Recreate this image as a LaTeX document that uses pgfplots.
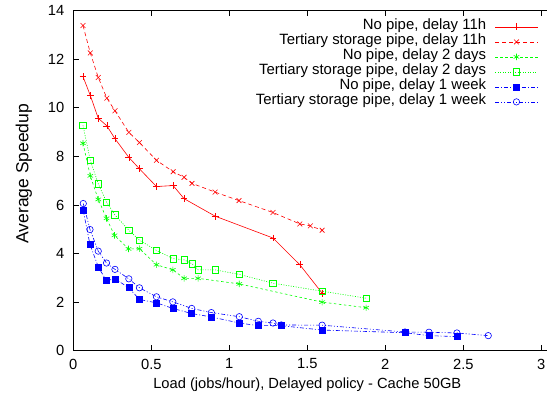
\documentclass[border=0pt]{standalone}
\usepackage{pgfplots}
\pgfplotsset{compat=1.18}
\usepackage{fontspec}
\setmainfont{Liberation Sans}
\definecolor{gred}{RGB}{255,0,0}
\definecolor{ggreen}{RGB}{0,255,0}
\definecolor{gblue}{RGB}{0,0,255}
\begin{document}
\fontsize{14.7}{17}\selectfont
\begin{tikzpicture}
\begin{axis}[
  scale only axis,
  width=483.6pt, height=340pt,
  xmin=0, xmax=3.1, ymin=0, ymax=14,
  xtick={0,0.5,1,1.5,2,2.5,3},
  ytick={0,2,4,6,8,10,12,14},
  tick align=inside,
  major tick length=5.3pt,
  axis line style={line width=1.2pt},
  tick style={black, line width=0.9pt},
  /pgf/number format/assume math mode=true,
  ticklabel style={font=\fontsize{14.7}{17}\selectfont},
  xticklabel style={yshift=-3pt},
  yticklabel style={xshift=-4pt},
  xlabel={Load (jobs/hour), Delayed policy - Cache 50GB},
  ylabel={Average Speedup},
  xlabel style={font=\fontsize{14.7}{17}\selectfont, at={(axis cs:1.5,0)}, anchor=base, yshift=-37.5pt},
  ylabel style={font=\fontsize{17.5}{20}\selectfont, at={(axis description cs:-0.0931,0.5206)}, anchor=base},
  legend cell align=right,
  legend plot pos=right,
  legend style={at={(axis cs:2.979,13.65)}, anchor=north east, draw=none, fill=none,
    font=\fontsize{14.9}{17}\selectfont, row sep=0pt, column sep=9pt, inner sep=0pt,
    nodes={inner sep=0pt, text height=10.5pt, text depth=4.5pt}},
  legend image code/.code={
    \draw[mark repeat=2,mark phase=2,#1] plot coordinates {(0cm,0cm) (0.74cm,0cm) (1.48cm,0cm)};},
  every axis plot/.append style={line width=0.6pt},
]
\addplot[gred, solid, mark=+, mark size=3.4pt, mark options={solid}] coordinates {
(0.062,11.29)(0.109,10.51)(0.16,9.57)(0.215,9.26)(0.267,8.73)(0.356,7.96)(0.424,7.49)
(0.533,6.76)(0.64,6.80)(0.71,6.26)(0.909,5.54)(1.28,4.64)(1.452,3.54)(1.595,2.37)};
\addlegendentry{No pipe, delay 11h}
\addplot[gred, dash pattern=on 4pt off 3pt, mark=x, mark size=3.4pt, mark options={solid}] coordinates {
(0.062,13.39)(0.109,12.26)(0.16,11.25)(0.215,10.40)(0.267,9.88)(0.356,8.99)(0.424,8.57)
(0.533,7.84)(0.64,7.37)(0.71,7.14)(0.761,6.89)(0.909,6.53)(1.062,6.18)(1.28,5.69)
(1.452,5.22)(1.52,5.14)(1.595,4.96)};
\addlegendentry{Tertiary storage pipe, delay 11h}
\addplot[ggreen, dash pattern=on 2.5pt off 2.5pt, mark=asterisk, mark size=3.2pt, mark options={solid}] coordinates {
(0.062,8.54)(0.109,7.20)(0.16,6.23)(0.213,5.45)(0.264,4.75)(0.354,4.19)(0.424,4.20)
(0.533,3.54)(0.638,3.33)(0.71,2.98)(0.8,2.98)(1.064,2.75)(1.595,2.00)(1.877,1.77)};
\addlegendentry{No pipe, delay 2 days}
\addplot[ggreen, dash pattern=on 1pt off 1.5pt, mark=square, mark size=3.2pt, mark options={solid}] coordinates {
(0.062,9.28)(0.109,7.84)(0.16,6.87)(0.213,6.12)(0.267,5.59)(0.356,4.96)(0.424,4.55)
(0.533,4.13)(0.64,3.79)(0.71,3.74)(0.761,3.58)(0.8,3.33)(0.909,3.33)(1.064,3.14)
(1.28,2.78)(1.595,2.45)(1.879,2.16)};
\addlegendentry{Tertiary storage pipe, delay 2 days}
\addplot[gblue, dash pattern=on 4pt off 2pt on 1pt off 2pt, mark=square*, mark size=3pt, mark options={solid}] coordinates {
(0.064,5.77)(0.107,4.37)(0.162,3.42)(0.213,2.89)(0.267,2.96)(0.356,2.59)(0.424,2.11)
(0.533,1.97)(0.638,1.74)(0.759,1.53)(0.885,1.39)(1.064,1.14)(1.186,1.03)(1.333,1.03)
(1.595,0.85)(2.126,0.74)(2.28,0.62)(2.459,0.58)};
\addlegendentry{No pipe, delay 1 week}
\addplot[gblue, dash pattern=on 4pt off 2pt on 1pt off 2pt on 1pt off 2pt, mark=o, mark size=3.2pt, mark options={solid}] coordinates {
(0.064,6.06)(0.107,4.99)(0.16,4.10)(0.213,3.61)(0.267,3.35)(0.356,2.96)(0.424,2.59)
(0.533,2.22)(0.638,2.01)(0.759,1.74)(0.885,1.57)(1.064,1.40)(1.186,1.21)(1.28,1.14)
(1.333,1.06)(1.595,1.05)(2.126,0.77)(2.28,0.76)(2.459,0.73)(2.66,0.62)};
\addlegendentry{Tertiary storage pipe, delay 1 week}
\end{axis}
\pgfresetboundingbox
\path[use as bounding box] ([xshift=-73.3pt,yshift=-50pt]current axis.south west) rectangle ([xshift=473.7pt,yshift=350.7pt]current axis.south west);
\end{tikzpicture}
\end{document}
